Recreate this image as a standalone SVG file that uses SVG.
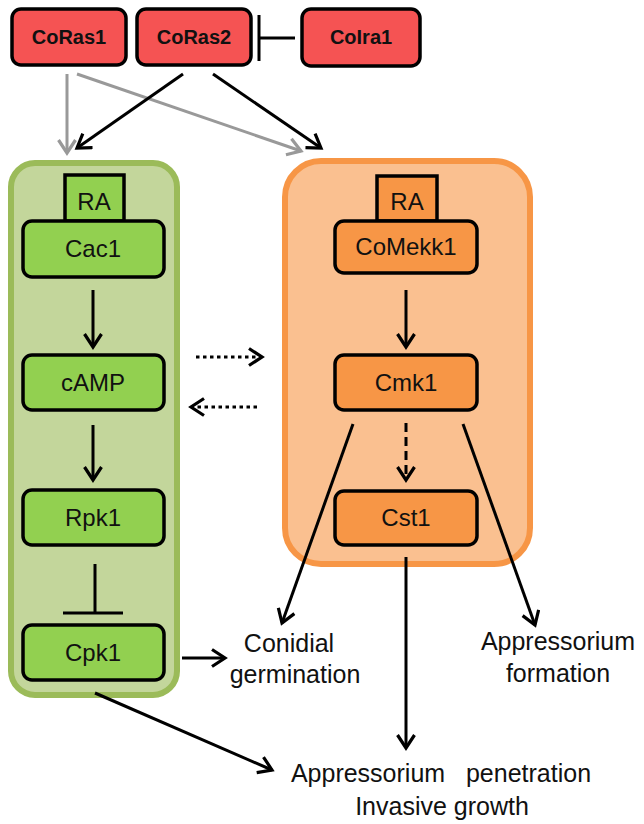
<svg xmlns="http://www.w3.org/2000/svg" width="644" height="824" viewBox="0 0 644 824">
<style>
.top{fill:#F55353;stroke:#000;stroke-width:3.5}
.tl{font-family:"Liberation Sans",Arial,sans-serif;font-weight:bold;font-size:20px;text-anchor:middle;fill:#111}
.gn{fill:#92D050;stroke:#000;stroke-width:3.5}
.on{fill:#F79646;stroke:#000;stroke-width:3.5}
.nl{font-family:"Liberation Sans",Arial,sans-serif;font-size:24px;text-anchor:middle;fill:#111}
.lab{font-family:"Liberation Sans",Arial,sans-serif;font-size:25px;text-anchor:middle;fill:#111}
.ar{fill:none;stroke:#000;stroke-width:3}
.gr{fill:none;stroke:#999;stroke-width:3}
</style>
<defs>
<marker id="ah" markerUnits="userSpaceOnUse" markerWidth="22" markerHeight="22" refX="15" refY="10" orient="auto">
<path d="M2,1.5 L15,10 L2,18.5" fill="none" stroke="#000" stroke-width="3.2"/>
</marker>
<marker id="ahg" markerUnits="userSpaceOnUse" markerWidth="22" markerHeight="22" refX="15" refY="10" orient="auto">
<path d="M2,1.5 L15,10 L2,18.5" fill="none" stroke="#999" stroke-width="3.2"/>
</marker>
</defs>
<g id="green-module">
<rect x="11" y="163" width="166" height="532" rx="24" fill="#C3D69B" stroke="#9BBB59" stroke-width="6"/>
</g>
<g id="orange-module">
<rect x="285" y="161" width="245" height="403" rx="36" fill="#FAC090" stroke="#F79646" stroke-width="6"/>
</g>
<g id="CoRas1"><rect class="top" x="12" y="9" width="114" height="56" rx="9"/><text class="tl" x="69" y="44">CoRas1</text></g>
<g id="CoRas2"><rect class="top" x="137" y="9" width="114" height="56" rx="9"/><text class="tl" x="194" y="44">CoRas2</text></g>
<g id="CoIra1"><rect class="top" x="302" y="9" width="118" height="57" rx="9"/><text class="tl" x="361" y="44">CoIra1</text></g>
<g id="RA-green"><rect class="gn" x="65" y="175" width="59" height="46"/><text class="nl" x="94" y="210">RA</text></g>
<g id="Cac1"><rect class="gn" x="23" y="221" width="141" height="56" rx="9"/><text class="nl" x="93" y="257">Cac1</text></g>
<g id="cAMP"><rect class="gn" x="23" y="355" width="141" height="55" rx="9"/><text class="nl" x="93" y="391">cAMP</text></g>
<g id="Rpk1"><rect class="gn" x="23" y="490" width="141" height="55" rx="9"/><text class="nl" x="93" y="526">Rpk1</text></g>
<g id="Cpk1"><rect class="gn" x="23" y="625" width="141" height="55" rx="9"/><text class="nl" x="93" y="661">Cpk1</text></g>
<g id="RA-orange"><rect class="on" x="377" y="176" width="60" height="45"/><text class="nl" x="407" y="210">RA</text></g>
<g id="CoMekk1"><rect class="on" x="335" y="221" width="142" height="52" rx="9"/><text class="nl" x="406" y="255">CoMekk1</text></g>
<g id="Cmk1"><rect class="on" x="335" y="355" width="142" height="55" rx="9"/><text class="nl" x="406" y="391">Cmk1</text></g>
<g id="Cst1"><rect class="on" x="335" y="491" width="142" height="54" rx="9"/><text class="nl" x="406" y="526">Cst1</text></g>
<g id="Conidial-germination"><text class="lab" x="289" y="652">Conidial</text><text class="lab" x="295" y="683">germination</text></g>
<g id="Appressorium-formation"><text class="lab" x="558" y="650">Appressorium</text><text class="lab" x="558" y="682">formation</text></g>
<g id="Appressorium-penetration"><text class="lab" x="441" y="782" xml:space="preserve">Appressorium   penetration</text><text class="lab" x="442" y="815">Invasive growth</text></g>
<g id="connectors">
<path class="ar" d="M295,38 H260 M259,15 V61"/>
<path class="gr" d="M67,74 V153" marker-end="url(#ahg)"/>
<path class="gr" d="M77,74 L301,151" marker-end="url(#ahg)"/>
<path class="ar" d="M183,74 L77,148" marker-end="url(#ah)"/>
<path class="ar" d="M213,74 L321,148" marker-end="url(#ah)"/>
<path class="ar" d="M93,290 V347" marker-end="url(#ah)"/>
<path class="ar" d="M93,425 V480" marker-end="url(#ah)"/>
<path class="ar" d="M95,564 V613 M63,613 H123"/>
<path class="ar" d="M406,290 V347" marker-end="url(#ah)"/>
<path class="ar" d="M406,423 V480" stroke-dasharray="9,5" marker-end="url(#ah)"/>
<path class="ar" d="M196,357 H262" stroke-dasharray="3.5,3.5" marker-end="url(#ah)"/>
<path class="ar" d="M257,407 H191" stroke-dasharray="3.5,3.5" marker-end="url(#ah)"/>
<path class="ar" d="M353,424 L282,623" marker-end="url(#ah)"/>
<path class="ar" d="M463,424 L535,625" marker-end="url(#ah)"/>
<path class="ar" d="M406,557 V748" marker-end="url(#ah)"/>
<path class="ar" d="M182,658 H225" marker-end="url(#ah)"/>
<path class="ar" d="M95,693 L272,770" marker-end="url(#ah)"/>
</g>
</svg>
